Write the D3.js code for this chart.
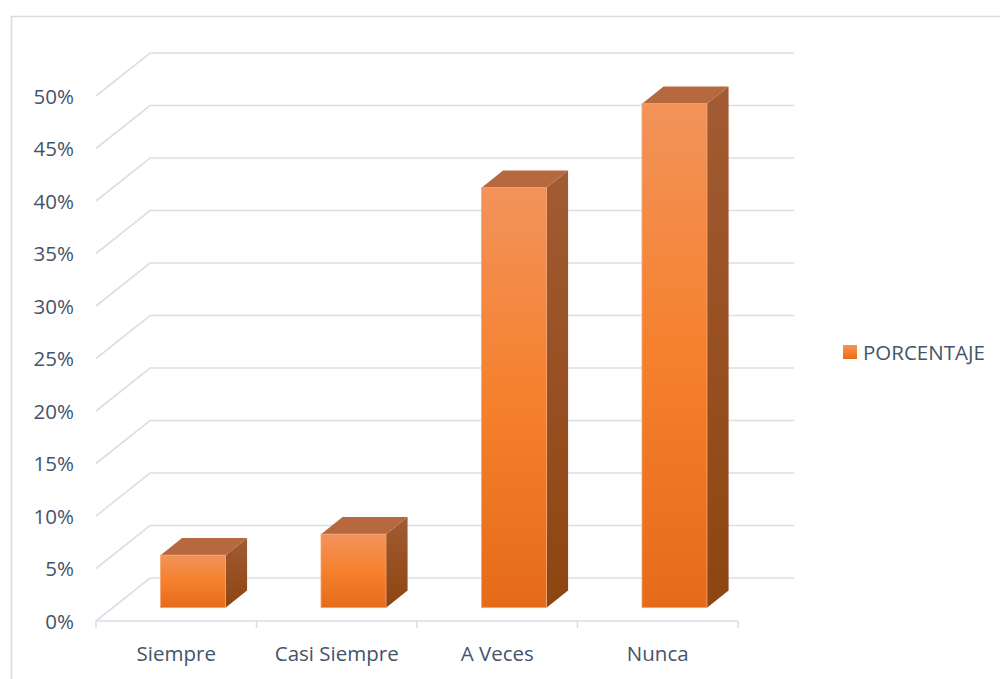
<!DOCTYPE html>
<html><head><meta charset="utf-8">
<script src="https://cdn.jsdelivr.net/npm/d3@7"></script>
<style>body{margin:0;background:#fff;}svg{display:block;}text{font-family:"Open Sans",sans-serif;fill:#44546A;}</style>
</head><body>
<svg id="c" width="1000" height="679"></svg>
<script>
const categories = ["Siempre", "Casi Siempre", "A Veces", "Nunca"];
const values = [0.05, 0.07, 0.40, 0.48];
const yTicks = [0, 0.05, 0.10, 0.15, 0.20, 0.25, 0.30, 0.35, 0.40, 0.45, 0.50];
const seriesName = "PORCENTAJE";

const svg = d3.select("#c");
// frame
svg.append("path").attr("d", "M11.5,679 V16.5 H1000").attr("fill","none").attr("stroke","#D9DCE3").attr("stroke-width",1.5);

const x0 = 96, x1 = 738;
const depthX = 54, depthY = -43;
const y = d3.scaleLinear().domain([0, 0.5]).range([621, 96]);
const x = d3.scaleBand().domain(categories).range([x0, x1]).paddingInner(0).paddingOuter(0);
const off = f => [depthX * f, depthY * f];

const grid = svg.append("g");
yTicks.forEach(t => {
  const yf = y(t), [bx, by] = off(1);
  grid.append("path")
    .attr("d", `M${x0},${yf} L${x0 + bx},${yf + by} L${794},${yf + by}`)
    .attr("fill","none").attr("stroke","#DCDEE6").attr("stroke-width",1.6);
});
// front axis line + ticks
svg.append("line").attr("x1",x0).attr("x2",x1).attr("y1",y(0)).attr("y2",y(0)).attr("stroke","#DCDEE6").attr("stroke-width",1.6);
const tickX = categories.map(c => x(c)).concat([x1]);
tickX.forEach(tx => svg.append("line").attr("x1",tx).attr("x2",tx).attr("y1",y(0)).attr("y2",y(0)+7).attr("stroke","#DCDEE6").attr("stroke-width",1.6));

// y labels
const fmt = d3.format(".0%");
svg.append("g").selectAll("text").data(yTicks).join("text")
  .attr("x", 74).attr("y", d => y(d) + 7.5).attr("text-anchor","end")
  .attr("font-size", 20.5).text(d => fmt(d));

// x labels
svg.append("g").selectAll("text").data(categories).join("text")
  .attr("x", d => x(d) + x.bandwidth()/2).attr("y", 661).attr("text-anchor","middle")
  .attr("font-size", 20.5).text(d => d);

// gradients
const defs = svg.append("defs");
const gF = defs.append("linearGradient").attr("id","gFront").attr("x1",0).attr("y1",0).attr("x2",0).attr("y2",1);
gF.append("stop").attr("offset","0").attr("stop-color","#F2935A");
gF.append("stop").attr("offset","0.5").attr("stop-color","#F5802D");
gF.append("stop").attr("offset","1").attr("stop-color","#E56B19");
const gS = defs.append("linearGradient").attr("id","gSide").attr("x1",0).attr("y1",0).attr("x2",0).attr("y2",1);
gS.append("stop").attr("offset","0").attr("stop-color","#A25B33");
gS.append("stop").attr("offset","1").attr("stop-color","#8D4511");

// bars
const fF = 0.31, fB = 0.71, bw = 65;
const bars = svg.append("g");
categories.forEach((c, i) => {
  const v = values[i];
  const [fx, fy] = off(fF), [bx, by] = off(fB);
  const cx = x(c) + x.bandwidth()/2;
  const L = cx - bw/2 + fx, R = cx + bw/2 + fx;
  const T = y(v) + fy, B = y(0) + fy;
  const dx = bx - fx, dy = by - fy;
  const g = bars.append("g");
  g.append("path").attr("d", `M${R},${T} L${R+dx},${T+dy} L${R+dx},${B+dy} L${R},${B} Z`).attr("fill","url(#gSide)");
  g.append("path").attr("d", `M${L},${T} L${L+dx},${T+dy} L${R+dx},${T+dy} L${R},${T} Z`).attr("fill","#B6693F");
  g.append("rect").attr("x", L).attr("y", T).attr("width", bw).attr("height", B - T)
    .attr("fill","url(#gFront)").attr("stroke","#F6A574").attr("stroke-width",0.8);
});

// legend
svg.append("rect").attr("x",843).attr("y",345).attr("width",14).attr("height",14).attr("fill","url(#gFront)");
svg.append("text").attr("x",863).attr("y",359.5).attr("font-size",20.5).text(seriesName);
</script>
</body></html>
